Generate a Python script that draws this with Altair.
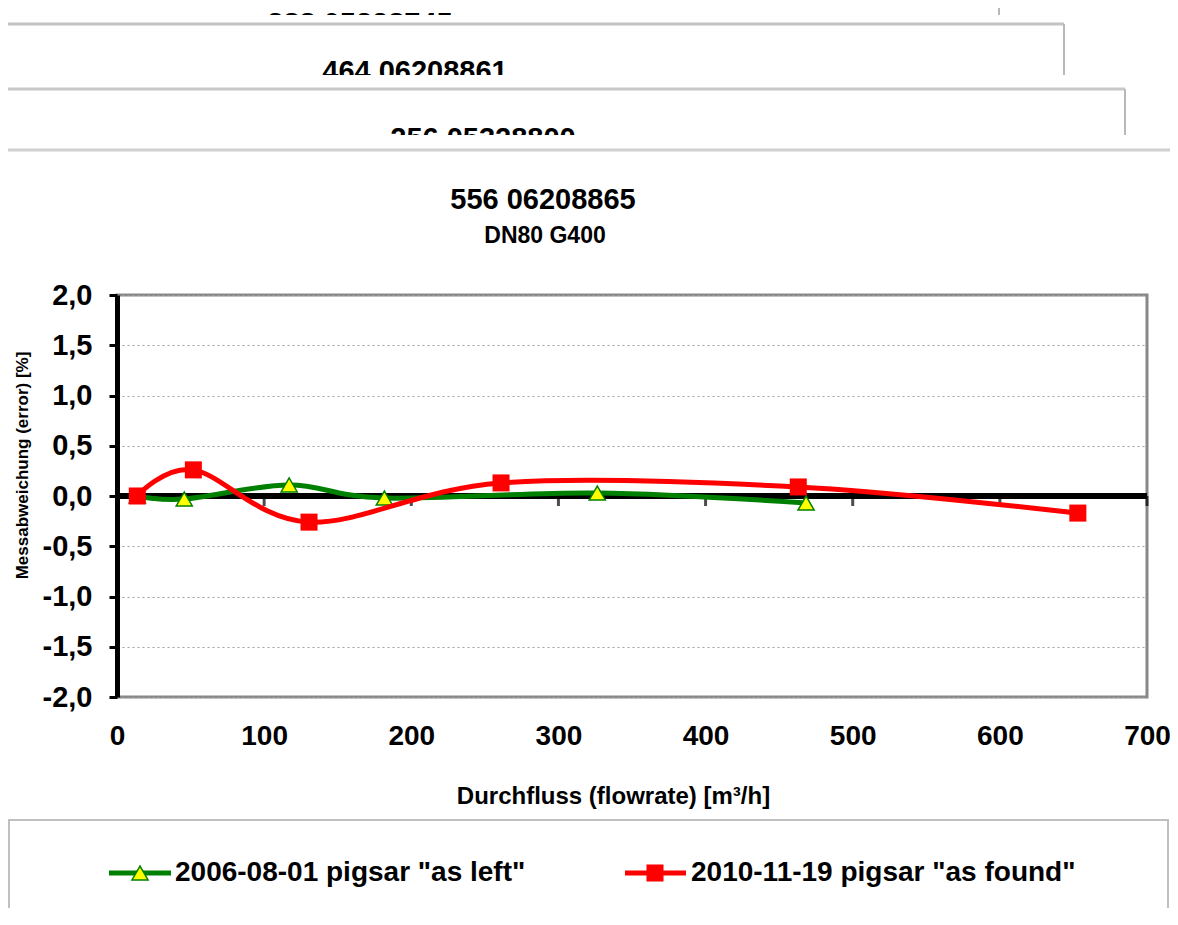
import altair as alt
import pandas as pd

# ---------------- data ----------------
series_names = ['2006-08-01 pigsar "as left"', '2010-11-19 pigsar "as found"']
flow_2006 = [13.8, 45.7, 117.0, 181.7, 326.4, 468.3]
err_2006 = [0.00, -0.03, 0.11, -0.02, 0.03, -0.07]
flow_2010 = [13.8, 51.9, 130.5, 261.0, 463.0, 653.0]
err_2010 = [0.00, 0.26, -0.26, 0.13, 0.09, -0.17]

x_ticks = [0, 100, 200, 300, 400, 500, 600, 700]
y_ticks = [-2.0, -1.5, -1.0, -0.5, 0.0, 0.5, 1.0, 1.5, 2.0]

main_title = "556 06208865"
sub_title = "DN80 G400"
card_titles = ["388 05328745", "464 06208861", "256 05328800"]
x_title = "Durchfluss (flowrate) [m³/h]"
y_title = "Messabweichung (error) [%]"

# ---------------- layout ----------------
FONT = "Liberation Sans"
W, H = 1030, 402
OX, OY = 117, 295          # page position of the plot origin
GREEN = "#008000"
RED = "#ff0000"


def px(v):
    return v - OX


def py(v):
    return v - OY


one = pd.DataFrame({"k": [0]})

df_g = pd.DataFrame({"flow": flow_2006, "err": err_2006, "series": series_names[0]})
df_r = pd.DataFrame({"flow": flow_2010, "err": err_2010, "series": series_names[1]})

label_expr = "(datum.value < 0 ? '-' : '') + replace(format(abs(datum.value), '.1f'), '.', ',')"

X = alt.X(
    "flow:Q",
    scale=alt.Scale(domain=[0, 700], nice=False, zero=False),
    title=x_title,
    axis=alt.Axis(
        values=x_ticks, domain=False, ticks=False, grid=False,
        labelFont=FONT, labelFontSize=28, labelFontWeight="bold", labelColor="black",
        labelPadding=25, labelFlush=False, labelOverlap=False,
        titleFont=FONT, titleFontSize=24, titleFontWeight="bold", titleColor="black",
        titleX=496, titleY=106, titleBaseline="alphabetic",
    ),
)
Y = alt.Y(
    "err:Q",
    scale=alt.Scale(domain=[-2, 2], nice=False, zero=False),
    title=y_title,
    axis=alt.Axis(
        values=y_ticks, labelExpr=label_expr,
        domain=True, domainColor="black", domainWidth=5,
        ticks=True, tickColor="black", tickWidth=3, tickSize=8,
        grid=True, gridColor="#a0a0a0", gridDash=[2, 3], gridWidth=1,
        labelFont=FONT, labelFontSize=29, labelFontWeight="bold", labelColor="black",
        labelPadding=17, labelFlush=False, labelOverlap=False,
        titleFont=FONT, titleFontSize=17, titleFontWeight="bold", titleColor="black",
        titleX=-95, titleY=170, titleAngle=270, titleBaseline="middle",
    ),
)

layers = []


def text_layer(txt, x, y, size, align="center", baseline="alphabetic"):
    return alt.Chart(pd.DataFrame({"t": [txt]})).mark_text(
        font=FONT, fontSize=size, fontWeight="bold", color="black",
        align=align, baseline=baseline,
    ).encode(x=alt.value(x), y=alt.value(y), text="t:N")


def rect_layer(x1, x2, y1, y2, fill="white", stroke=None, sw=0):
    kw = dict(fill=fill)
    if stroke:
        kw.update(stroke=stroke, strokeWidth=sw)
    else:
        kw.update(strokeWidth=0)
    return alt.Chart(one).mark_rect(**kw).encode(
        x=alt.value(x1), x2=alt.value(x2), y=alt.value(y1), y2=alt.value(y2)
    )


def hline(x1, x2, y, color, sw):
    return alt.Chart(one).mark_rule(color=color, strokeWidth=sw).encode(
        x=alt.value(x1), x2=alt.value(x2), y=alt.value(y)
    )


def vline(x, y1, y2, color, sw):
    return alt.Chart(one).mark_rule(color=color, strokeWidth=sw).encode(
        x=alt.value(x), y=alt.value(y1), y2=alt.value(y2)
    )


# ---------------- background cards (stacked sheets) ----------------
# card 1 (furthest back)
layers.append(text_layer(card_titles[0], px(360), py(33), 29))
layers.append(vline(px(999), py(0), py(15), "#b8b8b8", 2))
# card 2
layers.append(rect_layer(px(-20), px(1200), py(15), py(75)))
layers.append(hline(px(-20), px(1064), py(24), "#c4c4c4", 3))
layers.append(vline(px(1064), py(24), py(75), "#b8b8b8", 2))
layers.append(text_layer(card_titles[1], px(415), py(81), 29))
# card 3
layers.append(rect_layer(px(-20), px(1200), py(75), py(135)))
layers.append(hline(px(-20), px(1125), py(89), "#c8c8c8", 3))
layers.append(vline(px(1125), py(89), py(135), "#b8b8b8", 2))
layers.append(text_layer(card_titles[2], px(483), py(148), 29))
# main card
layers.append(rect_layer(px(-20), px(1200), py(135), py(150)))
layers.append(hline(px(-20), px(1200), py(150), "#d0d0d0", 3))
layers.append(text_layer(main_title, px(543), py(209), 29))
layers.append(text_layer(sub_title, px(545), py(243), 23))

# ---------------- plot ----------------
zero_line = alt.Chart(pd.DataFrame({"flow": [0], "flow2": [700], "err": [0]})).mark_rule(
    color="black", strokeWidth=6
).encode(x=X, x2="flow2:Q", y=Y)

zero_ticks = alt.Chart(pd.DataFrame({"flow": x_ticks[1:], "err": [0] * (len(x_ticks) - 1)})).mark_tick(
    color="black", orient="vertical", size=10, thickness=3, yOffset=5
).encode(x=X, y=Y)

green_line = alt.Chart(df_g).mark_line(
    color=GREEN, strokeWidth=5, interpolate="cardinal"
).encode(x=X, y=Y)
green_pts = alt.Chart(df_g).mark_point(
    shape="triangle-up", filled=True, fill="#ffff00", stroke=GREEN, strokeWidth=1.5,
    size=260, opacity=1,
).encode(x=X, y=Y)
red_line = alt.Chart(df_r).mark_line(
    color=RED, strokeWidth=5, interpolate="cardinal"
).encode(x=X, y=Y)
red_pts = alt.Chart(df_r).mark_point(
    shape="square", filled=True, color=RED, size=290, opacity=1,
).encode(x=X, y=Y)

layers += [zero_line, zero_ticks, green_line, green_pts, red_line, red_pts]

# ---------------- legend box ----------------
LY = py(873)
layers.append(rect_layer(px(9), px(1168), py(820), py(960), fill="transparent", stroke="#c0c0c0", sw=2))
layers.append(hline(px(109), px(171), LY, GREEN, 5))
layers.append(
    alt.Chart(one).mark_point(
        shape="triangle-up", filled=True, fill="#ffff00", stroke=GREEN, strokeWidth=1.5,
        size=260, opacity=1,
    ).encode(x=alt.value(px(140)), y=alt.value(LY))
)
layers.append(text_layer(series_names[0], px(175), LY, 28, align="left", baseline="middle"))
layers.append(hline(px(625), px(686), LY, RED, 5))
layers.append(
    alt.Chart(one).mark_point(shape="square", filled=True, color=RED, size=290, opacity=1)
    .encode(x=alt.value(px(655)), y=alt.value(LY))
)
layers.append(text_layer(series_names[1], px(691), LY, 28, align="left", baseline="middle"))

chart = alt.layer(*layers).properties(
    width=W,
    height=H,
    autosize=alt.AutoSizeParams(type="none"),
    padding={"left": 109, "top": 287, "right": 23, "bottom": 211},
    background="white",
).configure_view(stroke="#888888", strokeWidth=3)

chart.save("out.html", embed_options={"renderer": "svg", "actions": False})
